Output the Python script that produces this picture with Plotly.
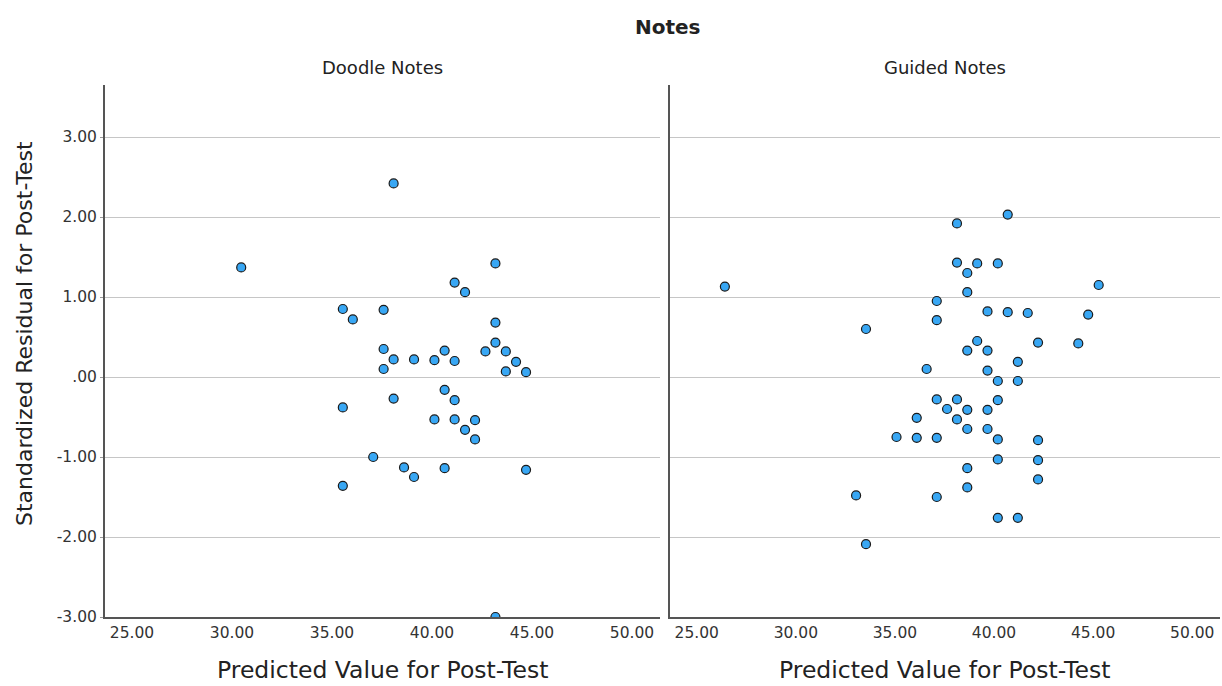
import plotly.graph_objects as go

panel_titles = ["Doodle Notes", "Guided Notes"]
chart_title = "Notes"
x_title = "Predicted Value for Post-Test"
y_title = "Standardized Residual for Post-Test"

x_tick_vals = [25, 30, 35, 40, 45, 50]
x_tick_text = ["25.00", "30.00", "35.00", "40.00", "45.00", "50.00"]
y_tick_vals = [3, 2, 1, 0, -1, -2, -3]
y_tick_text = ["3.00", "2.00", "1.00", ".00", "-1.00", "-2.00", "-3.00"]

doodle_x = [30.46, 38.08, 43.17, 41.13, 41.65, 35.54, 36.04, 37.58, 43.17, 43.17,
            37.58, 38.08, 39.10, 40.12, 40.63, 41.13, 42.67, 43.69, 44.20, 37.58,
            43.69, 44.70, 40.63, 38.08, 41.13, 35.54, 40.12, 41.13, 42.15, 41.65,
            42.15, 37.06, 38.60, 39.10, 40.63, 44.70, 35.54, 43.17]
doodle_y = [1.37, 2.42, 1.42, 1.18, 1.06, 0.85, 0.72, 0.84, 0.68, 0.43,
            0.35, 0.22, 0.22, 0.21, 0.33, 0.20, 0.32, 0.32, 0.19, 0.10,
            0.07, 0.06, -0.16, -0.27, -0.29, -0.38, -0.53, -0.53, -0.54, -0.66,
            -0.78, -1.00, -1.13, -1.25, -1.14, -1.16, -1.36, -3.00]

guided_x = [26.42, 40.69, 38.13, 38.13, 39.15, 40.19, 38.65, 45.28, 38.65, 37.11,
            39.67, 40.69, 41.70, 44.75, 37.11, 33.54, 39.15, 42.22, 44.25, 38.65,
            39.67, 41.20, 36.60, 39.67, 40.19, 41.20, 37.11, 38.13, 40.19, 37.63,
            38.65, 39.67, 36.10, 38.13, 38.65, 39.67, 35.08, 36.10, 37.11, 40.19,
            42.22, 40.19, 42.22, 38.65, 42.22, 38.65, 33.04, 37.11, 40.19, 41.20,
            33.54]
guided_y = [1.13, 2.03, 1.92, 1.43, 1.42, 1.42, 1.30, 1.15, 1.06, 0.95,
            0.82, 0.81, 0.80, 0.78, 0.71, 0.60, 0.45, 0.43, 0.42, 0.33,
            0.33, 0.19, 0.10, 0.08, -0.05, -0.05, -0.28, -0.28, -0.29, -0.40,
            -0.41, -0.41, -0.51, -0.53, -0.65, -0.65, -0.75, -0.76, -0.76, -0.78,
            -0.79, -1.03, -1.04, -1.14, -1.28, -1.38, -1.48, -1.50, -1.76, -1.76,
            -2.09]

FONT = "DejaVu Sans"
TEXT = "#222222"
marker = dict(size=9, color="#38A7F4", line=dict(color="#1a1a1a", width=1.2))

fig = go.Figure()
fig.add_trace(go.Scatter(x=doodle_x, y=doodle_y, mode="markers", marker=marker,
                         xaxis="x", yaxis="y", showlegend=False))
fig.add_trace(go.Scatter(x=guided_x, y=guided_y, mode="markers", marker=marker,
                         xaxis="x2", yaxis="y2", showlegend=False))

xcommon = dict(range=[23.65, 51.4], tickvals=x_tick_vals, ticktext=x_tick_text,
               showgrid=False, zeroline=False, showline=True, linecolor="#555555",
               linewidth=2, ticks="", tickfont=dict(family=FONT, size=15.5, color="#333333"))
ycommon = dict(range=[-3.0, 3.65], tickvals=y_tick_vals, showgrid=True,
               gridcolor="#c6c6c6", gridwidth=1.4, zeroline=False, showline=True,
               linecolor="#555555", linewidth=2)

L, R = 0.0, 0.4978
L2, R2 = 0.5067, 1.0

def ann(text, x, y, size, angle=0):
    return dict(text=text, x=x, y=y, xref="paper", yref="paper", showarrow=False,
                xanchor="center", yanchor="middle", textangle=angle,
                font=dict(family=FONT, size=size, color=TEXT))

fig.update_layout(
    width=1222, height=686,
    margin=dict(l=105, r=2, t=85, b=69),
    paper_bgcolor="white", plot_bgcolor="white",
    xaxis=dict(**xcommon, domain=[L, R], anchor="y"),
    xaxis2=dict(**xcommon, domain=[L2, R2], anchor="y2"),
    yaxis=dict(**ycommon, ticktext=y_tick_text, ticks="outside", ticklen=3,
               tickcolor="#999999", anchor="x",
               tickfont=dict(family=FONT, size=15.5, color="#333333")),
    yaxis2=dict(**ycommon, showticklabels=False, anchor="x2"),
    annotations=[
        ann("<b>" + chart_title + "</b>", (R + L2) / 2 + 0.003, 1.109, 20),
        ann(panel_titles[0], (L + R) / 2, 1.032, 18),
        ann(panel_titles[1], (L2 + R2) / 2, 1.032, 18),
        ann(x_title, (L + R) / 2, -0.100, 23.5),
        ann(x_title, (L2 + R2) / 2, -0.100, 23.5),
        ann(y_title, -0.0717, 0.532, 22, -90),
    ],
)

fig.write_html("out.html", config={"displayModeBar": False},
               post_script="document.body.style.margin='0';")
